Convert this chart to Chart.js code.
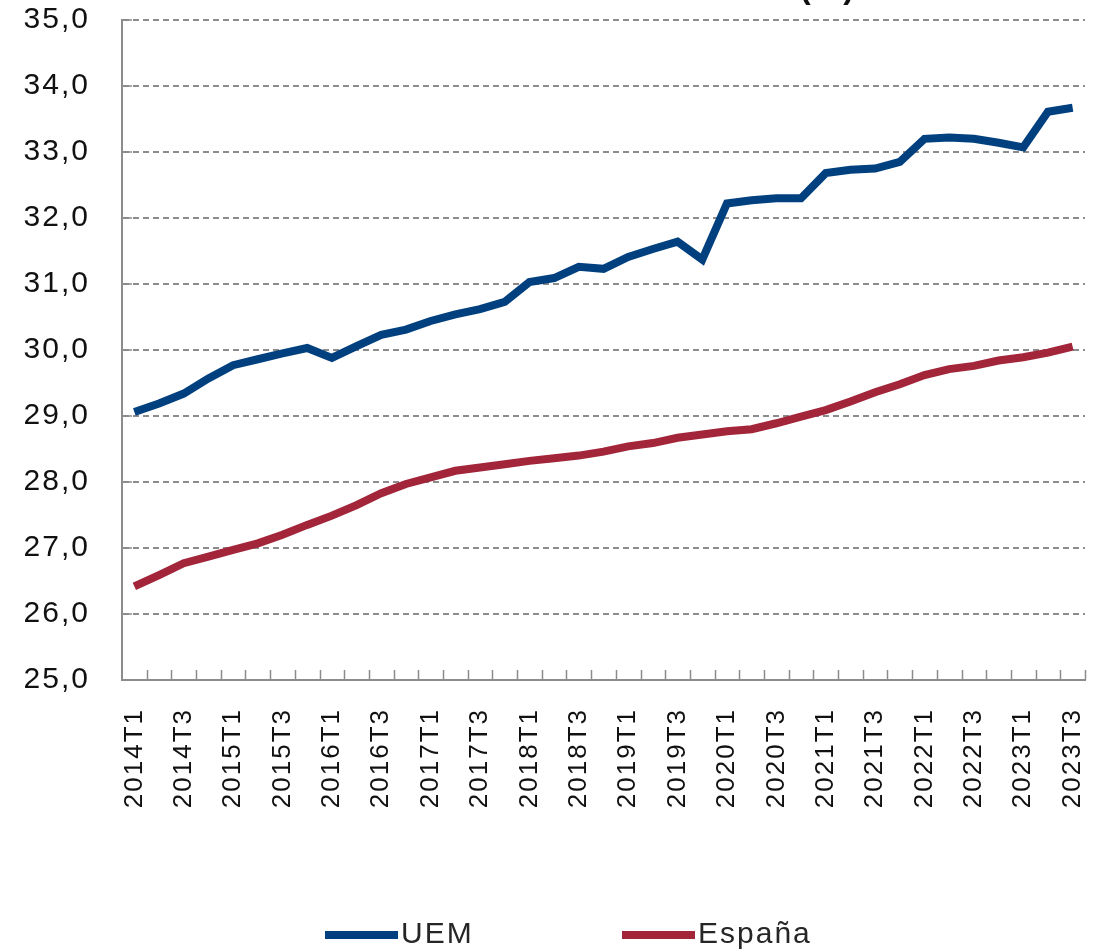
<!DOCTYPE html>
<html lang="es">
<head>
<meta charset="utf-8">
<title>UEM / España</title>
<script src="https://cdn.jsdelivr.net/npm/chart.js@4.4.1/dist/chart.umd.min.js"></script>
<style>
  body { margin: 0; background: #fff; }
  #wrap { position: relative; width: 1102px; height: 951px; }
</style>
</head>
<body>
<div id="wrap"><canvas id="grafico"></canvas></div>
<script>
// Trimestres
const trimestres = [
  "2014T1","2014T2","2014T3","2014T4","2015T1","2015T2","2015T3","2015T4",
  "2016T1","2016T2","2016T3","2016T4","2017T1","2017T2","2017T3","2017T4",
  "2018T1","2018T2","2018T3","2018T4","2019T1","2019T2","2019T3","2019T4",
  "2020T1","2020T2","2020T3","2020T4","2021T1","2021T2","2021T3","2021T4",
  "2022T1","2022T2","2022T3","2022T4","2023T1","2023T2","2023T3"
]

// Serie UEM
const uem = [
  29.06, 29.19, 29.34, 29.57, 29.77, 29.86, 29.95, 30.03,
  29.88, 30.06, 30.23, 30.31, 30.44, 30.54, 30.62, 30.73,
  31.03, 31.09, 31.26, 31.23, 31.41, 31.53, 31.64, 31.37,
  32.22, 32.27, 32.30, 32.30, 32.68, 32.73, 32.75, 32.85,
  33.20, 33.22, 33.20, 33.14, 33.07, 33.61, 33.67
]

// Serie España
const espana = [
  26.42, 26.59, 26.77, 26.87, 26.97, 27.07, 27.20, 27.35,
  27.49, 27.65, 27.83, 27.97, 28.07, 28.17, 28.22, 28.27,
  28.32, 28.36, 28.40, 28.46, 28.54, 28.59, 28.67, 28.72,
  28.77, 28.80, 28.89, 28.99, 29.09, 29.22, 29.36, 29.48,
  29.62, 29.71, 29.76, 29.84, 29.89, 29.96, 30.05
]

// Eje Y
const yMin = 25
const yMax = 35
const yPaso = 1

const series = ["UEM", "España"]
const colores = ["#00407f", "#a2253a"]

const gris = "#8c8c8c"
const fuente = "'Liberation Sans', Arial, sans-serif"

// espaciado de letras (el original tiene texto más ancho)
const espaciado = {
  id: "espaciado",
  beforeLayout(chart) { chart.ctx.letterSpacing = "2px" },
  beforeDraw(chart) { chart.ctx.letterSpacing = "2px" }
}

// marcas de eje hacia dentro
const marcas = {
  id: "marcas",
  afterDatasetsDraw(chart) {
    const ctx = chart.ctx
    const x = chart.scales.x
    const y = chart.scales.y
    const area = chart.chartArea
    const medio = (x.getPixelForValue(1) - x.getPixelForValue(0)) / 2
    ctx.save()
    ctx.strokeStyle = gris
    ctx.lineWidth = 1.5
    ctx.beginPath()
    for (let i = 1; i <= trimestres.length; i++) {
      const px = Math.round(x.getPixelForValue(i) - medio) + 0.5
      ctx.moveTo(px, area.bottom)
      ctx.lineTo(px, area.bottom - 10)
    }
    for (let v = yMin + yPaso; v <= yMax; v += yPaso) {
      const py = y.getPixelForValue(v)
      ctx.moveTo(area.left, py)
      ctx.lineTo(area.left + 10, py)
    }
    ctx.stroke()
    ctx.restore()
  }
}

// leyenda abajo y resto del titulo cortado
const leyenda = {
  id: "leyenda",
  afterDraw(chart) {
    const ctx = chart.ctx
    const inicio = [325, 622]
    ctx.save()
    ctx.font = "30px " + fuente
    ctx.textBaseline = "middle"
    chart.data.datasets.forEach((ds, i) => {
      ctx.fillStyle = ds.borderColor
      ctx.fillRect(inicio[i], 931, 73, 8)
      ctx.fillStyle = "#262626"
      ctx.fillText(ds.label, inicio[i] + 76, 935)
    })
    ctx.font = "bold 32px " + fuente
    ctx.textBaseline = "alphabetic"
    ctx.textAlign = "center"
    ctx.fillStyle = "#111"
    ctx.fillText("(%)", 828, -2)
    ctx.restore()
  }
}

const data = {
  labels: trimestres,
  datasets: [uem, espana].map((valores, i) => ({
    label: series[i],
    data: valores,
    borderColor: colores[i],
    backgroundColor: colores[i],
    borderWidth: 8,
    pointRadius: 0,
    tension: 0,
    fill: false
  }))
}

const options = {
  responsive: true,
  maintainAspectRatio: false,
  animation: false,
  layout: { padding: { top: 20, right: 17, bottom: 0, left: 0 } },
  plugins: {
    legend: { display: false },
    tooltip: { enabled: false }
  },
  scales: {
    x: {
      offset: true,
      grid: { display: false, drawTicks: false },
      border: { display: true, color: gris, width: 2 },
      ticks: {
        autoSkip: false,
        maxRotation: 90,
        minRotation: 90,
        padding: 28,
        color: "#111",
        font: { family: fuente, size: 26 },
        callback: (val, i) => (i % 2 === 0 ? trimestres[i] : "")
      },
      afterFit: (scale) => {
        scale.height = 271
        scale.paddingLeft = 0
        scale.paddingRight = 0
      }
    },
    y: {
      min: yMin,
      max: yMax,
      grid: { color: gris, lineWidth: 2, drawTicks: false },
      border: { display: true, color: gris, width: 2, dash: [6, 4] },
      ticks: {
        stepSize: yPaso,
        padding: 32,
        color: "#111",
        font: { family: fuente, size: 30 },
        callback: (v) => v.toFixed(1).replace(".", ",")
      },
      afterFit: (scale) => {
        scale.width = 122
        scale.paddingTop = 0
        scale.paddingBottom = 0
      }
    }
  }
}

const grafico = new Chart(document.getElementById("grafico"), {
  type: "line",
  data: data,
  options: options,
  plugins: [espaciado, marcas, leyenda]
})
</script>
</body>
</html>
